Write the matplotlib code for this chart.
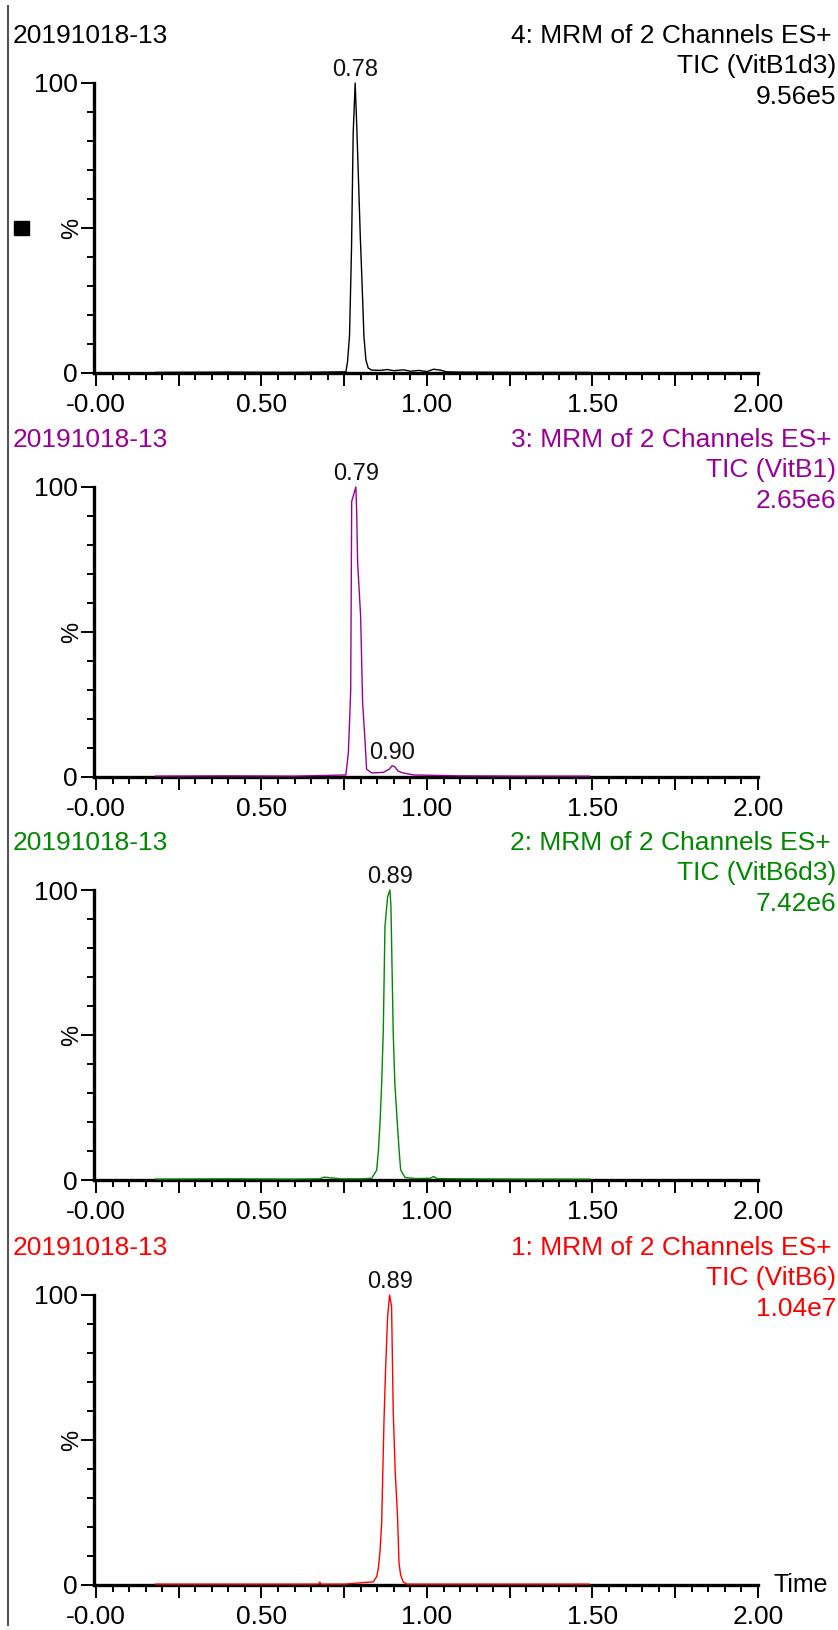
import matplotlib
matplotlib.use("Agg")
import matplotlib.pyplot as plt
from matplotlib.patches import Rectangle
from matplotlib.lines import Line2D
from matplotlib.ticker import FixedLocator, MultipleLocator, FixedFormatter

plt.rcParams['font.family'] = ['Liberation Sans', 'DejaVu Sans']

# ---- data (% of base peak) ----
sample = "20191018-13"
functions = ["4: MRM of 2 Channels ES+", "3: MRM of 2 Channels ES+",
             "2: MRM of 2 Channels ES+", "1: MRM of 2 Channels ES+"]
channels = ["TIC (VitB1d3)", "TIC (VitB1)", "TIC (VitB6d3)", "TIC (VitB6)"]
intensities = ["9.56e5", "2.65e6", "7.42e6", "1.04e7"]
colors = ["#000000", "#990099", "#008800", "#ff0000"]

t1 = [0.18, 0.40, 0.60, 0.755, 0.760, 0.766, 0.772, 0.777, 0.783, 0.788, 0.7935, 0.7985,
      0.8035, 0.8095, 0.8155, 0.8225, 0.833, 0.86, 0.88, 0.90, 0.93, 0.95, 0.975, 1.00,
      1.02, 1.04, 1.06, 1.10, 1.30, 1.49]
y1 = [0.2, 0.3, 0.2, 0.4, 3.9, 13.0, 43.0, 82.6, 100.0, 84.5, 65.0, 47.0,
      32.0, 12.5, 4.5, 1.7, 1.0, 0.9, 1.2, 0.8, 1.1, 0.6, 0.9, 0.5,
      1.3, 1.0, 0.4, 0.3, 0.2, 0.2]

t2 = [0.18, 0.40, 0.60, 0.755, 0.7625, 0.7695, 0.7725, 0.785, 0.7875, 0.7905, 0.7995,
      0.8055, 0.8125, 0.8175, 0.833, 0.868, 0.885, 0.895, 0.903, 0.913, 0.928, 0.96,
      1.10, 1.30, 1.49]
y2 = [0.3, 0.4, 0.3, 0.7, 8.5, 29.7, 95.0, 100.0, 92.0, 73.8, 55.4,
      25.7, 13.0, 2.7, 1.4, 1.6, 2.6, 3.9, 3.5, 2.0, 1.4, 0.7,
      0.4, 0.3, 0.3]

t3 = [0.18, 0.40, 0.60, 0.675, 0.69, 0.705, 0.742, 0.80, 0.833, 0.848, 0.853, 0.858,
      0.863, 0.868, 0.873, 0.881, 0.888, 0.891, 0.898, 0.903, 0.911, 0.916, 0.9205,
      0.9335, 0.964, 1.01, 1.02, 1.03, 1.10, 1.30, 1.49]
y3 = [0.3, 0.4, 0.3, 0.4, 1.0, 0.8, 0.4, 0.4, 0.6, 3.4, 9.8, 19.5,
      33.0, 51.7, 87.4, 97.7, 100.0, 94.8, 50.6, 33.0, 18.4, 9.8, 3.4,
      0.9, 0.5, 0.6, 1.2, 0.5, 0.4, 0.3, 0.3]

t4 = [0.18, 0.40, 0.60, 0.672, 0.676, 0.680, 0.75, 0.838, 0.848, 0.853, 0.858, 0.863,
      0.870, 0.875, 0.881, 0.887, 0.893, 0.898, 0.904, 0.911, 0.9155, 0.9205, 0.928,
      0.939, 1.10, 1.30, 1.49]
y4 = [0.3, 0.3, 0.3, 0.3, 1.0, 0.3, 0.3, 1.1, 2.9, 5.7, 11.5, 21.3,
      56.3, 74.7, 92.5, 100.0, 96.0, 59.8, 39.0, 23.6, 7.5, 3.4, 1.1,
      0.3, 0.3, 0.3, 0.3]

times = [t1, t2, t3, t4]
values = [y1, y2, y3, y4]

# peak annotations: (time, height, label)
peaks = [
    [(0.783, 100.0, "0.78")],
    [(0.785, 100.0, "0.79"), (0.895, 3.9, "0.90")],
    [(0.888, 100.0, "0.89")],
    [(0.887, 100.0, "0.89")],
]

xticks = [0, 0.25, 0.5, 0.75, 1.0, 1.25, 1.5, 1.75, 2.0]
xtick_labels = ["-0.00", "", "0.50", "", "1.00", "", "1.50", "", "2.00"]
yticks = [0, 50, 100]
ytick_labels = ["0", "", "100"]

# ---- layout (pixels) ----
W, H = 838, 1630
fig = plt.figure(figsize=(W / 100, H / 100), dpi=100)
ax_left, ax_right = 94, 758
tops = [83, 487, 890, 1295]
ax_h = 290

def fx(px):
    return px / W

def fy(py):
    return 1 - py / H

for i in range(4):
    top = tops[i]
    ax = fig.add_axes([fx(ax_left), fy(top + ax_h), fx(ax_right - ax_left), ax_h / H])
    c = colors[i]
    ax.plot(times[i], values[i], color=c, lw=1.0, clip_on=False, zorder=3)

    ax.set_xlim(-0.006, 2.0)
    ax.set_ylim(0, 100)
    for s in ["top", "right"]:
        ax.spines[s].set_visible(False)
    for s in ["left", "bottom"]:
        ax.spines[s].set_linewidth(2.4)

    ax.xaxis.set_major_locator(FixedLocator(xticks))
    ax.xaxis.set_major_formatter(FixedFormatter(xtick_labels))
    ax.xaxis.set_minor_locator(MultipleLocator(0.05))
    ax.yaxis.set_major_locator(FixedLocator(yticks))
    ax.yaxis.set_major_formatter(FixedFormatter(ytick_labels))
    ax.yaxis.set_minor_locator(MultipleLocator(10))
    ax.tick_params(which="major", length=9.5, width=1.4, labelsize=19)
    ax.tick_params(which="minor", length=5, width=1.4)
    ax.tick_params(axis="x", which="major", pad=5)
    ax.tick_params(axis="y", which="major", pad=2)

    ax.annotate("%", xy=(0, 50), xycoords=("axes fraction", "data"),
                xytext=(-16, 0), textcoords="offset points",
                rotation=90, ha="center", va="center", fontsize=17)

    for (pt, ph, lab) in peaks[i]:
        ax.annotate(lab, xy=(pt, ph), xytext=(0, 5), textcoords="offset points",
                    ha="center", va="baseline", fontsize=17, color="#111111")

    # header texts
    fig.text(fx(13), fy(top - 40), sample, color=c, fontsize=19, ha="left", va="baseline")
    fig.text(fx(831), fy(top - 40), functions[i], color=c, fontsize=19, ha="right", va="baseline")
    fig.text(fx(836), fy(top - 10), channels[i], color=c, fontsize=19, ha="right", va="baseline")
    fig.text(fx(836), fy(top + 21), intensities[i], color=c, fontsize=19, ha="right", va="baseline")

    if i == 3:
        ax.annotate("Time", xy=(1, 0), xycoords="axes fraction", xytext=(11, 0),
                    textcoords="offset points", ha="left", va="center", fontsize=18)

# left frame line and selection marker
fig.add_artist(Line2D([fx(8), fx(8)], [fy(6), fy(1625)], color="#555555", lw=1.5))
fig.add_artist(Rectangle((fx(14), fy(235)), fx(15), 14 / H, color="black"))

fig.savefig("out.png", dpi=100, facecolor="white")
